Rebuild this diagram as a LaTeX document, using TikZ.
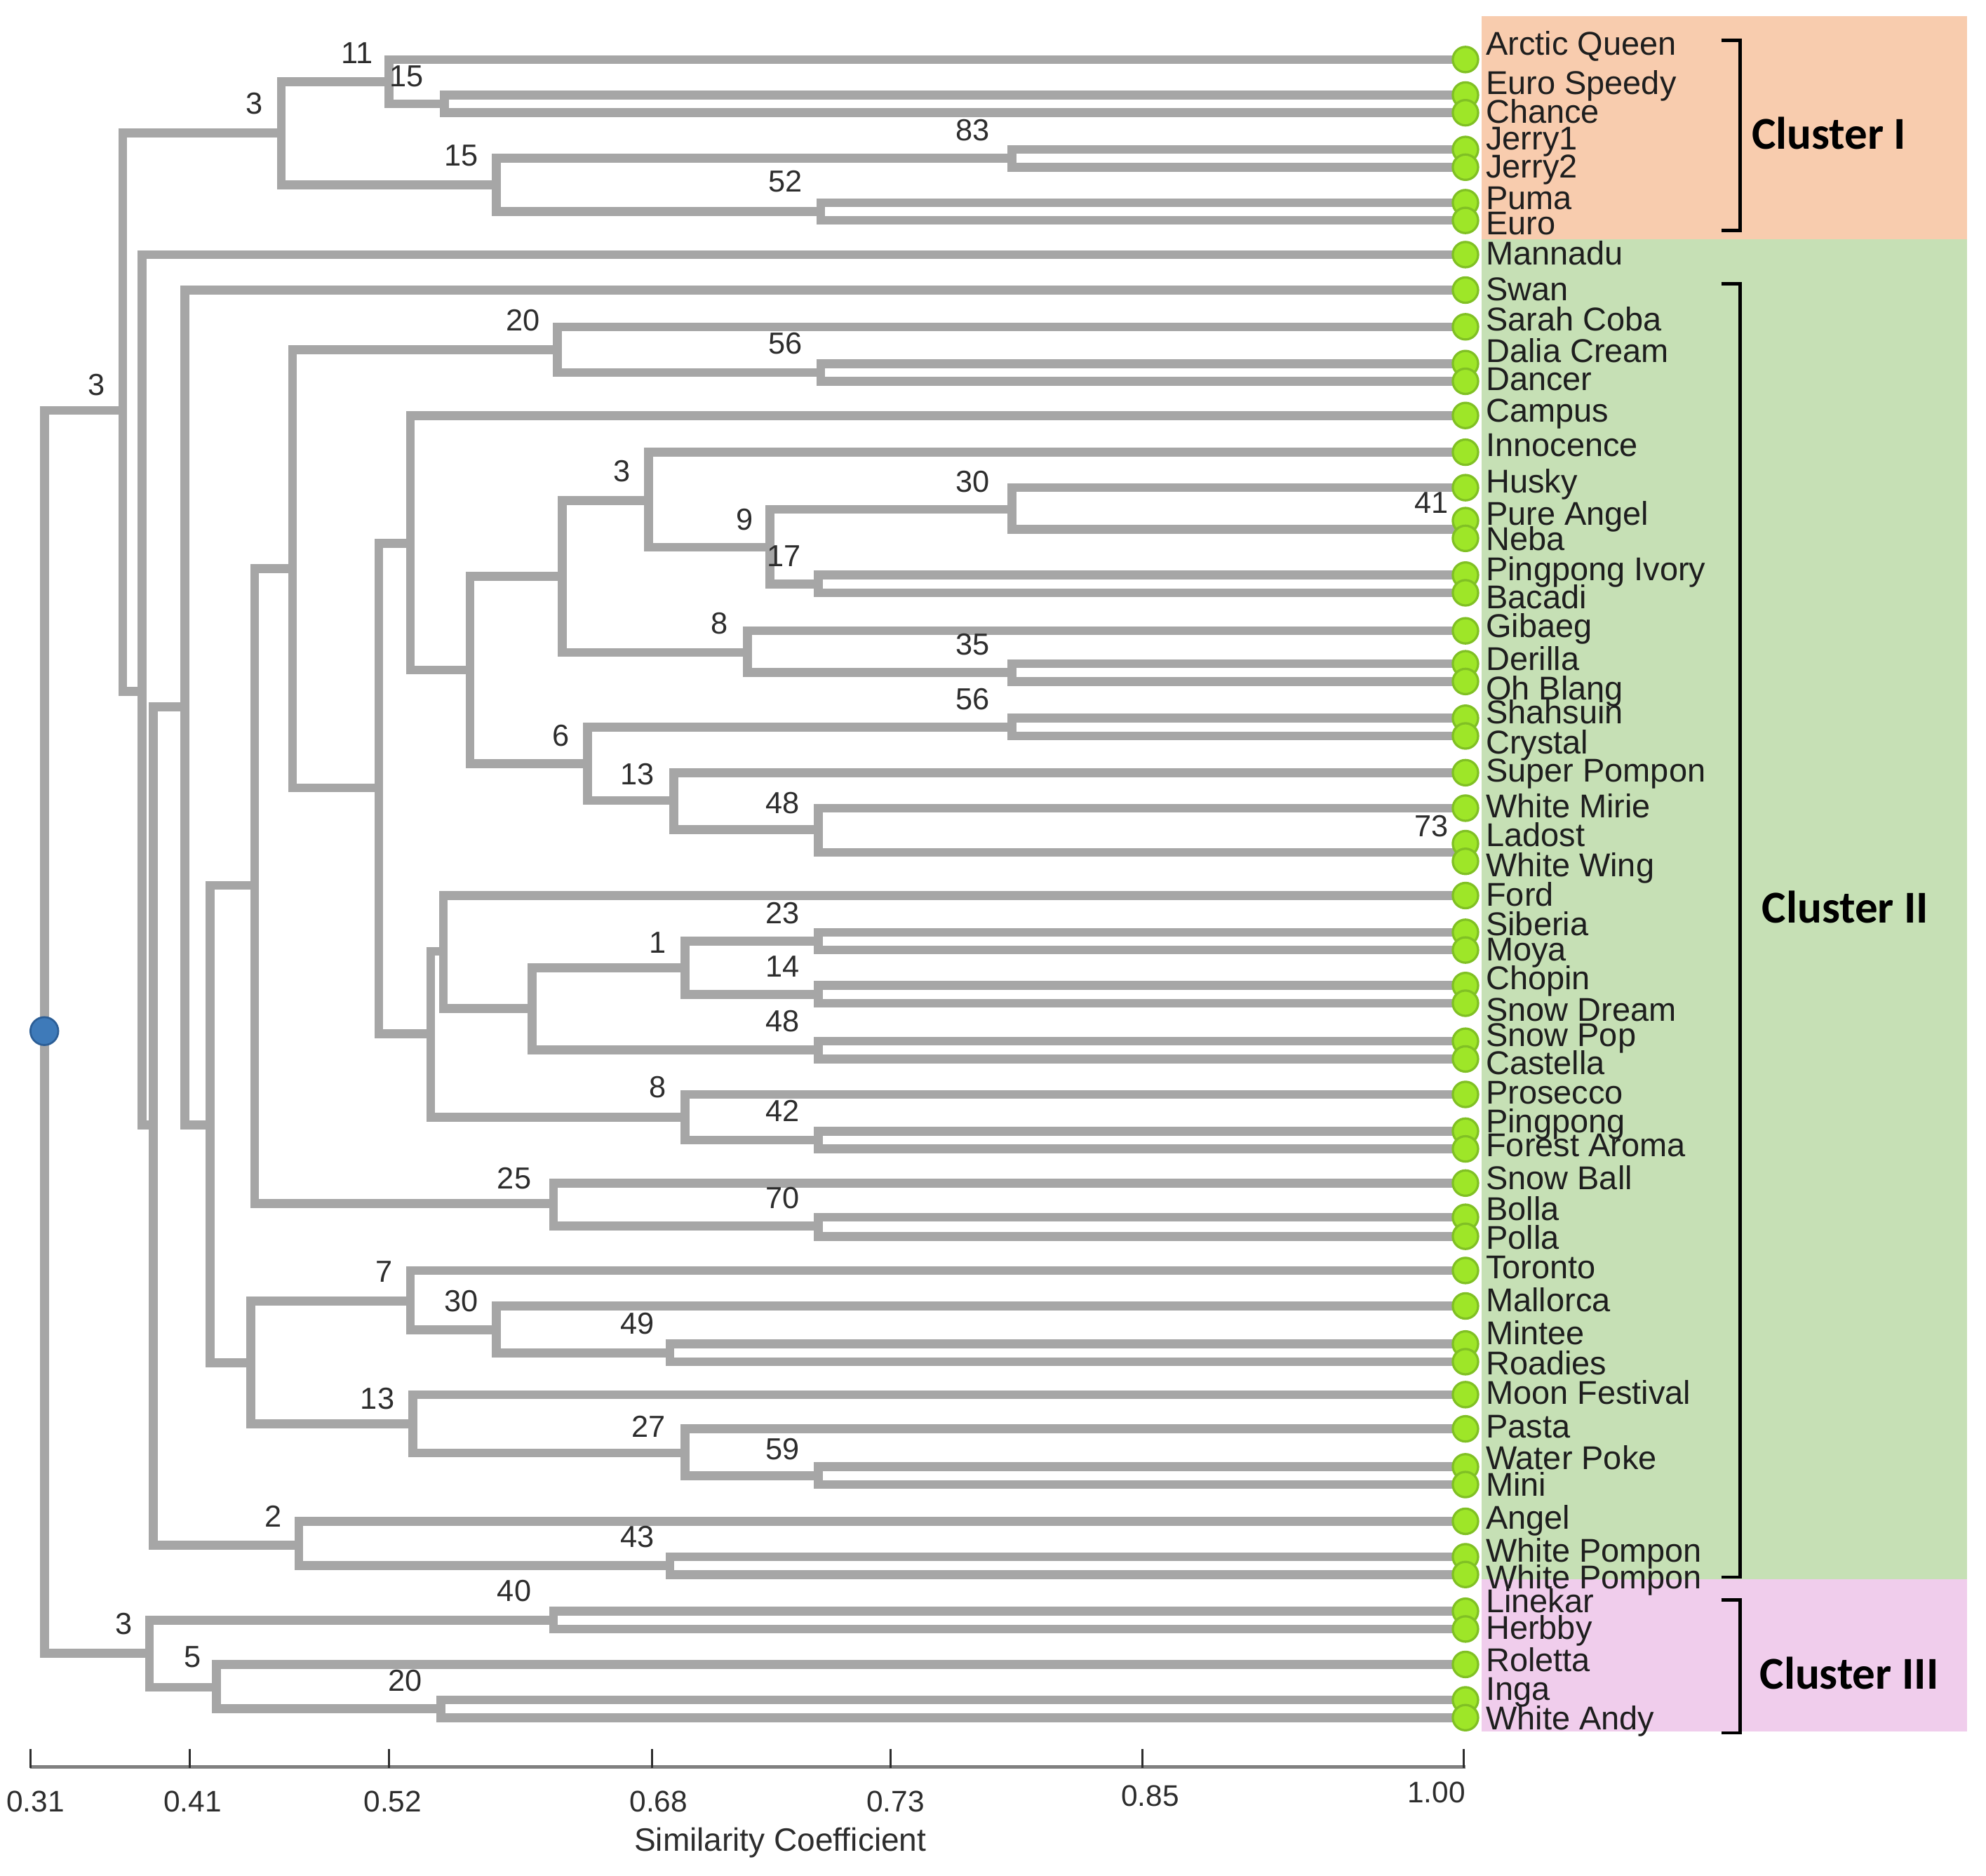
\documentclass[tikz,border=0pt]{standalone}
\usepackage{fontspec}
\setmainfont{Liberation Sans}
\newfontfamily\clfont{Carlito}
\definecolor{brgray}{RGB}{166,166,166}
\definecolor{leafg}{RGB}{158,230,40}
\definecolor{leafd}{RGB}{128,192,36}
\definecolor{rootb}{RGB}{62,122,185}
\definecolor{rootd}{RGB}{44,94,150}
\definecolor{txtc}{RGB}{30,30,30}
\definecolor{numc}{RGB}{45,45,45}
\definecolor{bgI}{RGB}{248,204,174}
\definecolor{bgII}{RGB}{198,224,181}
\definecolor{bgIII}{RGB}{240,205,236}
\definecolor{axc}{RGB}{128,128,128}
\begin{document}
\begin{tikzpicture}[x=1pt,y=-1pt,
  br/.style={draw=brgray,line width=7pt},
  leaf/.style={circle,fill=leafg,draw=leafd,line width=1.8pt,minimum size=20pt,inner sep=0pt},
  lab/.style={anchor=base west,inner sep=0pt,font=\fontsize{26}{30}\selectfont,text=txtc},
  num/.style={inner sep=0pt,font=\fontsize{24}{28}\selectfont,text=numc},
  ticklab/.style={inner sep=0pt,font=\fontsize{23.5}{28}\selectfont,text=numc},
  brk/.style={draw=black,line width=2.6pt},
  clus/.style={inner sep=0pt,font=\clfont\bfseries\fontsize{36}{40}\selectfont,text=black}]
\useasboundingbox (0,0) rectangle (1568,1481);
% cluster backgrounds
\fill[bgI] (1170,13) rectangle (1553,189);
\fill[bgII] (1170,189) rectangle (1553,1247);
\fill[bgIII] (1170,1247) rectangle (1553,1367);
% leaf coordinates
\foreach \n/\y in {1/47,2/75,3/89,4/118,5/132,6/160,7/174,8/201,9/229,10/258,
  11/287,12/301,13/328,14/357,15/385,16/411,17/425,18/454,19/468,20/498,
  21/524,22/538,23/567,24/581,25/610,26/638,27/666,28/680,29/707,30/736,
  31/750,32/778,33/792,34/822,35/836,36/864,37/893,38/907,39/934,40/961,
  41/976,42/1003,43/1031,44/1061,45/1075,46/1101,47/1128,48/1158,49/1172,50/1201,
  51/1229,52/1243,53/1272,54/1286,55/1314,56/1342,57/1356}
  {\coordinate (l\n) at (1157,\y);}
% internal nodes
\coordinate (R) at (35,814);
\coordinate (A) at (97,324);
\coordinate (A1) at (222,105);
\coordinate (n11) at (307,64.5);
\coordinate (n15a) at (351,82);
\coordinate (n15b) at (392,146);
\coordinate (n83) at (799,125);
\coordinate (n52) at (648,167);
\coordinate (B) at (112,546);
\coordinate (C) at (121,888);
\coordinate (D) at (146,558);
\coordinate (E) at (166,888);
\coordinate (F) at (201,699);
\coordinate (G) at (231,449);
\coordinate (n20a) at (440,276);
\coordinate (n56a) at (648,294);
\coordinate (H) at (299,622);
\coordinate (I) at (324,429);
\coordinate (J) at (371,529);
\coordinate (K) at (444,455);
\coordinate (n3m) at (512,395);
\coordinate (n9) at (608,432);
\coordinate (n30a) at (799,402);
\coordinate (n41) at (1157,418);
\coordinate (n17) at (646,461);
\coordinate (n8a) at (590,515);
\coordinate (n35) at (799,531);
\coordinate (n6) at (464,603);
\coordinate (n56b) at (799,574);
\coordinate (n13a) at (532,632);
\coordinate (n48a) at (646,655);
\coordinate (n73) at (1157,673);
\coordinate (M) at (340,816);
\coordinate (N) at (350,751);
\coordinate (O) at (420,796);
\coordinate (n1) at (541,764);
\coordinate (n23) at (646,743);
\coordinate (n14) at (646,785);
\coordinate (n48b) at (646,829);
\coordinate (n8b) at (541,882);
\coordinate (n42) at (646,900);
\coordinate (n25) at (437,950);
\coordinate (n70) at (646,968);
\coordinate (P) at (198,1076);
\coordinate (n7) at (324,1027);
\coordinate (n30b) at (392,1050);
\coordinate (n49) at (529,1068);
\coordinate (n13b) at (326,1124);
\coordinate (n27) at (541,1147);
\coordinate (n59) at (646,1165);
\coordinate (n2) at (236,1220);
\coordinate (n43) at (529,1236);
\coordinate (Z) at (118,1305);
\coordinate (n40) at (437,1279);
\coordinate (n5) at (171,1332);
\coordinate (n20b) at (348,1349);
% branches
\foreach \p/\a/\b in {R/A/Z, A/A1/B, A1/n11/n15b, n11/l1/n15a, n15a/l2/l3,
  n15b/n83/n52, n83/l4/l5, n52/l6/l7, B/l8/C, C/D/n2, D/l9/E, E/F/P,
  F/G/n25, G/n20a/H, n20a/l10/n56a, n56a/l11/l12, H/I/M, I/l13/J, J/K/n6,
  K/n3m/n8a, n3m/l14/n9, n9/n30a/n17, n30a/l15/n41, n41/l16/l17, n17/l18/l19,
  n8a/l20/n35, n35/l21/l22, n6/n56b/n13a, n56b/l23/l24, n13a/l25/n48a,
  n48a/l26/n73, n73/l27/l28, M/N/n8b, N/l29/O, O/n1/n48b, n1/n23/n14,
  n23/l30/l31, n14/l32/l33, n48b/l34/l35, n8b/l36/n42, n42/l37/l38,
  n25/l39/n70, n70/l40/l41, P/n7/n13b, n7/l42/n30b, n30b/l43/n49, n49/l44/l45,
  n13b/l46/n27, n27/l47/n59, n59/l48/l49, n2/l50/n43, n43/l51/l52,
  Z/n40/n5, n40/l53/l54, n5/l55/n20b, n20b/l56/l57}
  {\draw[br] (\p) |- (\a); \draw[br] (\p) |- (\b);}
% root dot
\node[circle,fill=rootb,draw=rootd,line width=1.5pt,minimum size=22pt,inner sep=0pt] (root) at (R) {};
% leaves and labels
\foreach \n/\ty/\txt in {1/34/Arctic Queen,2/65/Euro Speedy,3/88/Chance,4/109/Jerry1,5/131/Jerry2,
  6/156/Puma,7/176/Euro,8/200/Mannadu,9/228/Swan,10/252/Sarah Coba,
  11/277/Dalia Cream,12/299/Dancer,13/324/Campus,14/351/Innocence,15/380/Husky,
  16/405/Pure Angel,17/425/Neba,18/449/Pingpong Ivory,19/471/Bacadi,20/494/Gibaeg,
  21/520/Derilla,22/543/Oh Blang,23/562/Shahsuin,24/586/Crystal,25/608/Super Pompon,
  26/636/White Mirie,27/659/Ladost,28/683/White Wing,29/706/Ford,30/729/Siberia,
  31/749/Moya,32/772/Chopin,33/797/Snow Dream,34/817/Snow Pop,35/839/Castella,
  36/862/Prosecco,37/885/Pingpong,38/904/Forest Aroma,39/930/Snow Ball,40/954/Bolla,
  41/977/Polla,42/1000/Toronto,43/1026/Mallorca,44/1052/Mintee,45/1076/Roadies,
  46/1099/Moon Festival,47/1126/Pasta,48/1151/Water Poke,49/1172/Mini,50/1198/Angel,
  51/1224/White Pompon,52/1245/White Pompon,53/1264/Linekar,54/1285/Herbby,55/1310/Roletta,
  56/1333/Inga,57/1356/White Andy}
  {\node[leaf] (c\n) at (l\n) {};
   \node[lab] (t\n) at (1173,\ty+9.3) {\txt};}
% branch numbers
\foreach \nm/\x/\y/\v in {A/76/304/3, A1/201/82/3, n11/282/42/11, n15a/321/60/15,
  n15b/364/123/15, n83/768/103/83, n52/620/143/52, n20a/413/253/20, n56a/620/271/56,
  n3m/491/372/3, n30a/768/380/30, n9/588/410/9, n41/1130/397/41, n17/619/439/17,
  n8a/568/492/8, n35/768/509/35, n56b/768/552/56, n6/443/581/6, n13a/503/611/13,
  n48a/618/634/48, n73/1130/652/73, n23/618/721/23, n1/519/744/1, n14/618/763/14,
  n48b/618/806/48, n8b/519/858/8, n42/618/877/42, n25/406/930/25, n70/618/946/70,
  n7/303/1004/7, n30b/364/1027/30, n49/503/1045/49, n13b/298/1104/13, n27/512/1126/27,
  n59/618/1144/59, n2/216/1197/2, n43/503/1213/43, Z/98/1282/3, n40/406/1256/40,
  n5/152/1308/5, n20b/320/1327/20}
  {\node[num] (v\nm) at (\x,\y) {\v};}
% brackets
\draw[brk] (1359,32) -- (1374,32) -- (1374,182) -- (1359,182);
\draw[brk] (1359,224) -- (1374,224) -- (1374,1245) -- (1359,1245);
\draw[brk] (1359,1263) -- (1374,1263) -- (1374,1368) -- (1359,1368);
\node[clus] (cI) at (1444,105) {Cluster I};
\node[clus] (cII) at (1457,716) {Cluster II};
\node[clus] (cIII) at (1460,1321) {Cluster III};
% axis
\coordinate (ax0) at (24,1395);
\coordinate (ax1) at (1157,1395);
\draw[axc,line width=3pt] (ax0) -- (ax1);
\foreach \x/\t/\lx/\ly in {24/0.31/28/1422, 150/0.41/152/1422, 307/0.52/310/1422,
  515/0.68/520/1422, 703/0.73/707/1422, 902/0.85/908/1418, 1155.5/1.00/1134/1415}
  {\draw[numc,line width=1.5pt] (\x,1396) -- (\x,1381);
   \node[ticklab] at (\lx,\ly) {\t};}
\node[inner sep=0pt,font=\fontsize{25.5}{30}\selectfont,text=numc] (axt) at (616,1455) {Similarity Coefficient};
\end{tikzpicture}
\end{document}
